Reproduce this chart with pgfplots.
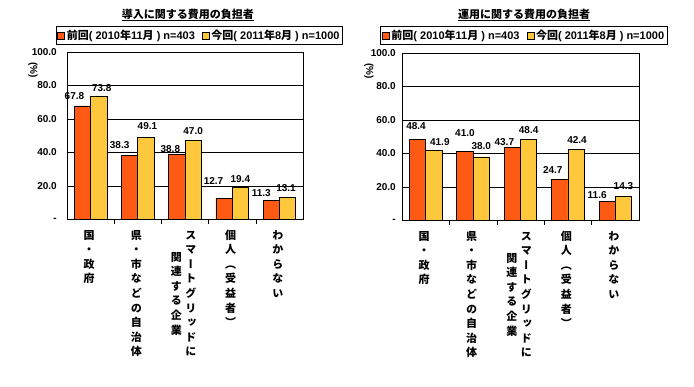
\documentclass[border=0pt]{standalone}
\usepackage{fontspec}
\setmainfont{Liberation Sans}
\newfontfamily\jp{Noto Sans CJK JP}
\newfontfamily\jpv[RawFeature={+vert}]{Noto Sans CJK JP}
\usepackage{pgfplots}
\usepackage{pgfplotstable}
\pgfplotsset{compat=1.18}
\definecolor{cOr}{RGB}{255,90,20}
\definecolor{cYe}{RGB}{255,200,60}

\pgfplotstableread{
x y dx dy
0 67.8 -8 6
1 38.3 -10 6
2 38.8 -6.5 2
3 12.7 -10.5 13
4 11.3 -10 4
}\Aold
\pgfplotstableread{
x y dx dy
0 73.8 3 4
1 49.1 1.5 7
2 47.0 0 6
3 19.4 0 4.3
4 13.1 -1.5 6
}\Anew
\pgfplotstableread{
x y dx dy
0 48.4 -1.5 9
1 41.0 0 15
2 43.7 -8 1.7
3 24.7 -7 5
4 11.6 -10 2.3
}\Bold
\pgfplotstableread{
x y dx dy
0 41.9 6 4.3
1 38.0 0 7.3
2 48.4 0 5
3 42.4 1 5.7
4 14.3 0 6.7
}\Bnew

\newcommand{\vcol}[1]{\begin{tabular}[c]{@{}c@{}}#1\end{tabular}}
\newcommand{\lA}{\vcol{国\\・\\政\\府}}
\newcommand{\lB}{\vcol{県\\・\\市\\な\\ど\\の\\自\\治\\体}}
\newcommand{\lC}{\vcol{関\\連\\す\\る\\企\\業}\hspace{3.5pt}\vcol{ス\\マ\\ー\\ト\\グ\\リ\\ッ\\ド\\に}}
\newcommand{\lD}{\vcol{個\\人\\（\\受\\益\\者\\）}}
\newcommand{\lE}{\vcol{わ\\か\\ら\\な\\い}}

\pgfplotsset{
  mychart/.style={
    scale only axis, anchor=south west,
    xmin=-0.5, xmax=4.5, ymin=0, ymax=100,
    ytick={0,20,...,100},
    yticklabels={-,20.0,40.0,60.0,80.0,100.0},
    ymajorgrids, major grid style={black, line width=0.7pt},
    axis line style={black, line width=0.8pt},
    ytick style={draw=none},
    xtick={0,...,4},
    xticklabels={{\lA},{\lB},{\lC},{\lD},{\lE}},
    major x tick style={draw=none},
    minor xtick={0.5,1.5,2.5,3.5},
    minor x tick style={black, line width=0.6pt},
    minor tick length=4pt, tick align=inside, xtick pos=left,
    ybar=0pt, bar width=16.3pt,
    yticklabel style={font=\bfseries\fontsize{10}{12}\selectfont, anchor=east, inner sep=0pt},
    xticklabel style={anchor=north, inner sep=0pt, yshift=-5pt, xshift=-1.5pt,
      font=\jpv\bfseries\fontsize{11}{14.6}\selectfont},
    ylabel={(\%)},
    ylabel style={rotate=180, anchor=center, font=\bfseries\fontsize{10}{12}\selectfont},
    legend columns=2,
    legend style={anchor=center, draw=black, line width=0.8pt,
      font=\bfseries\fontsize{11}{12.5}\selectfont, inner sep=1.3pt,
      /tikz/every even column/.append style={column sep=5pt}},
    legend image code/.code={\draw[#1, draw=black, line width=0.5pt] (0pt,-3.5pt) rectangle (7pt,3.5pt);},
    nodes near coords,
    /pgf/number format/.cd, fixed, fixed zerofill, precision=1, assume math mode=true, /pgfplots/.cd,
    visualization depends on={\thisrow{dx} \as \dx},
    visualization depends on={\thisrow{dy} \as \dy},
    every node near coord/.append style={xshift=\dx pt, yshift=\dy pt, inner sep=0pt,
      anchor=south, font=\bfseries\fontsize{10}{12}\selectfont, black},
  },
  orbar/.style={fill=cOr, draw=black, line width=0.7pt},
  yebar/.style={fill=cYe, draw=black, line width=0.7pt},
}

\begin{document}
\begin{tikzpicture}
\path[use as bounding box] (0pt,0pt) rectangle (694pt,386pt);
\begin{axis}[mychart,
  at={(67pt,166.5pt)}, width=236pt, height=167.5pt,
  yticklabel style={xshift=-10pt},
  ylabel style={at={(axis description cs:-0.144,0.89)}},
  title={\underline{導入に関する費用の負担者}},
  title style={at={(axis description cs:0.5127,1.185)}, anchor=center, font=\jp\bfseries\fontsize{11}{13}\selectfont},
  legend style={at={(axis description cs:0.5614,1.0985)}},
]
\addplot[orbar] table[x=x,y=y]{\Aold};
\addlegendentry{{\jp 前回}( 2010{\jp 年}11{\jp 月} ) n=403}
\addplot[yebar] table[x=x,y=y]{\Anew};
\addlegendentry{{\jp 今回}( 2011{\jp 年}8{\jp 月} ) n=1000}
\end{axis}
\begin{axis}[mychart,
  at={(402pt,165.5pt)}, width=237pt, height=167.5pt,
  yticklabel style={xshift=-6pt},
  ylabel style={at={(axis description cs:-0.139,0.89)}},
  title={\underline{運用に関する費用の負担者}},
  title style={at={(axis description cs:0.515,1.191)}, anchor=center, font=\jp\bfseries\fontsize{11}{13}\selectfont},
  legend style={at={(axis description cs:0.515,1.104)}},
]
\addplot[orbar] table[x=x,y=y]{\Bold};
\addlegendentry{{\jp 前回}( 2010{\jp 年}11{\jp 月} ) n=403}
\addplot[yebar] table[x=x,y=y]{\Bnew};
\addlegendentry{{\jp 今回}( 2011{\jp 年}8{\jp 月} ) n=1000}
\end{axis}
\end{tikzpicture}
\end{document}
